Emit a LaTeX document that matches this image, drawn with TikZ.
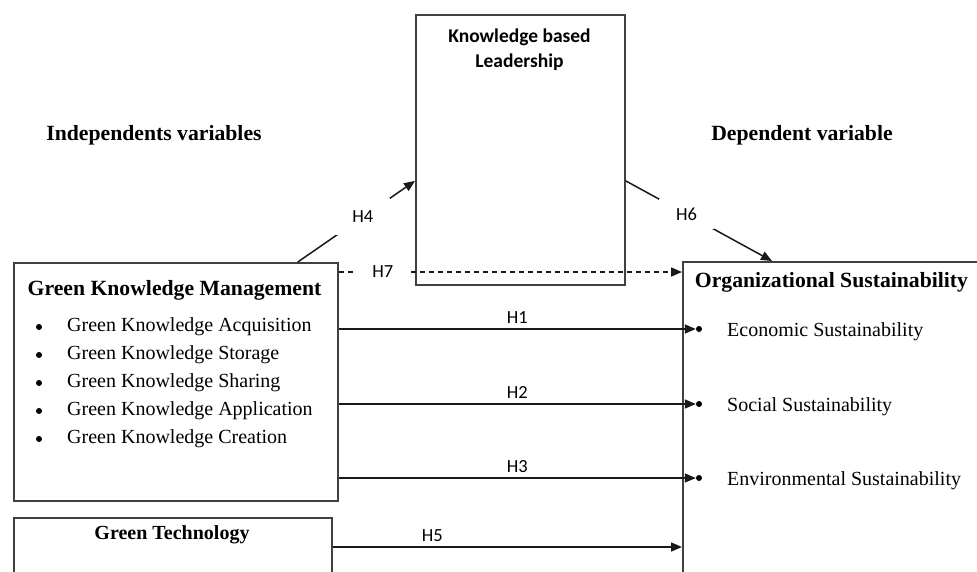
\documentclass[tikz,border=0pt]{standalone}
\usepackage{fontspec}
\setmainfont{Liberation Serif}
\newfontfamily\calfont{Carlito}
\usetikzlibrary{arrows.meta,calc}
\begin{document}
\begin{tikzpicture}[x=1pt,y=-1pt,
  box/.style={draw=black!75,line width=1.8pt,anchor=north west,inner sep=0pt},
  conn/.style={draw=black!90,line width=1.5pt,-{Triangle[length=11pt,width=9pt]}},
  dconn/.style={conn,dash pattern=on 5pt off 4pt},
  hlab/.style={font=\calfont\fontsize{18.5}{20}\selectfont,inner sep=0pt},
  gap/.style={hlab,fill=white},
  ttl/.style={font=\bfseries\fontsize{21.7}{26}\selectfont,inner sep=0pt},
  item/.style={font=\fontsize{20}{24}\selectfont,anchor=west,inner sep=0pt},
  dotb/.style={circle,fill=black,inner sep=0pt,minimum size=6pt}]
\clip (0,0) rectangle (977,571);
\fill[white] (0,0) rectangle (977,571);
% boxes
\node[box,minimum width=209pt,minimum height=270pt] (kbl) at (415,14) {};
\node[box,minimum width=324pt,minimum height=238pt] (gkm) at (13,262) {};
\node[box,minimum width=318pt,minimum height=90pt] (gt) at (13,517) {};
\node[box,minimum width=330pt,minimum height=350pt] (os) at (682,261) {};
% titles
\node[font=\calfont\bfseries\fontsize{19.5}{25}\selectfont,align=center,inner sep=0pt] (kblt) at (519.5,50) {Knowledge based\\Leadership};
\node[ttl] (indep) at (154,135) {Independents variables};
\node[ttl] (dep) at (802,135) {Dependent variable};
\node[ttl] (gkmt) at (174.5,290) {Green Knowledge Management};
\node[ttl] (ost) at (831.5,282) {Organizational Sustainability};
\node[font=\bfseries\fontsize{20}{24}\selectfont,inner sep=0pt] (gtt) at (172,535) {Green Technology};
% GKM items
\foreach \t/\y [count=\i] in {Acquisition/327,Storage/355,Sharing/383,Application/411,Creation/439}{
  \node[dotb] (gb\i) at (39,\y) {};
  \node[item] (gi\i) at (67,\y) {Green Knowledge \t};
}
% OS items
\foreach \t/\y [count=\i] in {Economic/329,Social/404,Environmental/478}{
  \node[dotb] (ob\i) at (699,\y) {};
  \node[item] (oi\i) at (727,\y+3) {\t{} Sustainability};
}
% connectors
\draw[conn] ([xshift=-41pt]gkm.north east) -- node[gap,minimum width=54pt,minimum height=37pt,pos=0.555] {H4} ([yshift=-31pt]kbl.west);
\draw[conn] ([yshift=-31pt]kbl.east) -- node[gap,minimum width=55pt,minimum height=30pt,pos=0.415] {H6} ([xshift=90pt]os.north west);
\draw[dconn] ([yshift=-10pt]gkm.north east) -- node[gap,minimum width=56pt,minimum height=20pt,pos=0.128] {H7} ([yshift=-11pt]os.north west);
\draw[conn] (gkm.east |- ob1) -- node[hlab,above=5pt] {H1} (ob1);
\draw[conn] (gkm.east |- ob2) -- node[hlab,above=5pt] {H2} (ob2);
\draw[conn] (gkm.east |- ob3) -- node[hlab,above=5pt] {H3} (ob3);
\draw[conn] ([yshift=-30pt]gt.north east) -- node[hlab,above=5pt,pos=0.285] {H5} ([yshift=-30pt]gt.north east -| os.west);
\end{tikzpicture}
\end{document}
